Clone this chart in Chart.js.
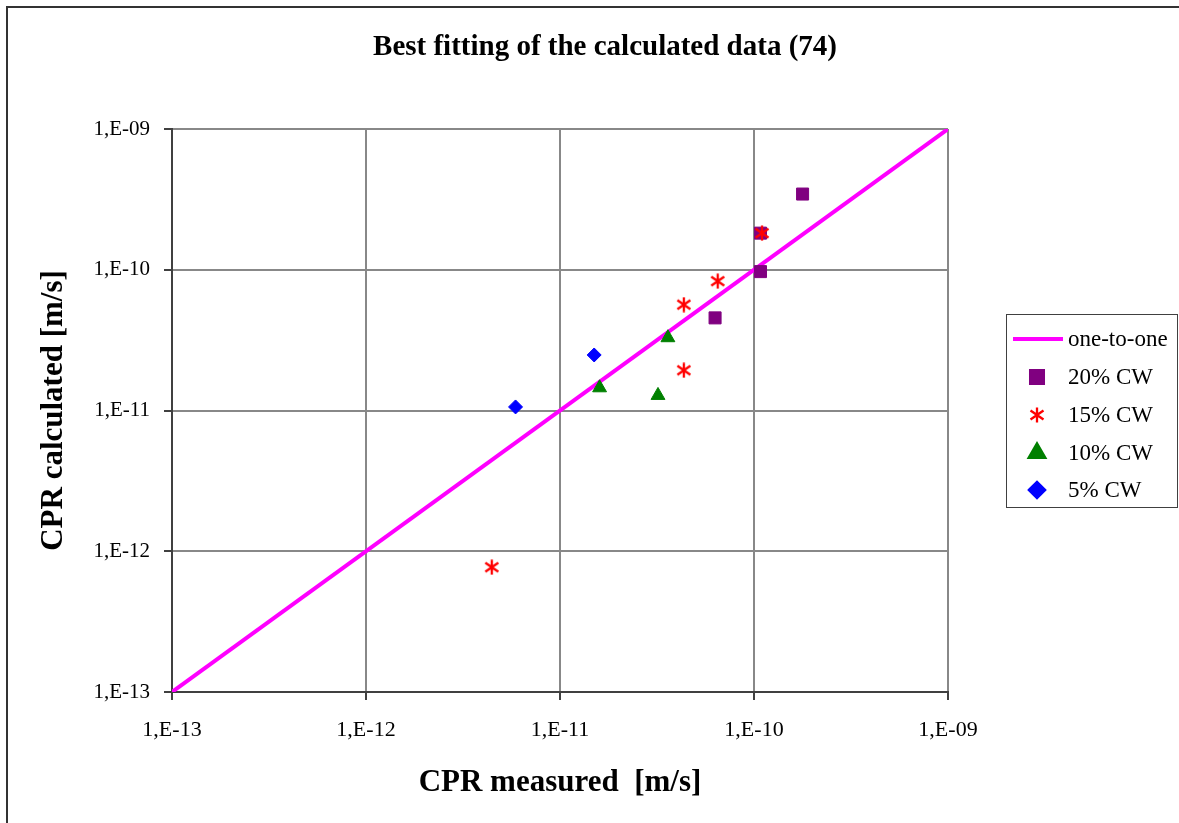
<!DOCTYPE html>
<html>
<head>
<meta charset="utf-8">
<script src="https://cdn.jsdelivr.net/npm/chart.js@4.4.1/dist/chart.umd.min.js"></script>
<style>
  body { margin: 0; background: #fff; }
  #wrap { width: 1179px; height: 823px; }
</style>
</head>
<body>
<div id="wrap"><canvas id="fitChart" width="1179" height="823"></canvas></div>
<script>
// Tick values and labels (log decades)
const tickValues = [1e-13, 1e-12, 1e-11, 1e-10, 1e-9];
const tickLabels = ['1,E-13', '1,E-12', '1,E-11', '1,E-10', '1,E-09'];

// One-to-one reference line
const oneToOneX = [1e-13, 1e-9];
const oneToOneY = [1e-13, 1e-9];

// 20% CW
const measured20 = [1.78e-10, 1.08e-10, 1.08e-10, 6.3e-11];
const calculated20 = [3.45e-10, 1.82e-10, 9.7e-11, 4.55e-11];

// 15% CW
const measured15 = [1.10e-10, 6.5e-11, 4.35e-11, 4.35e-11, 4.45e-12];
const calculated15 = [1.82e-10, 8.3e-11, 5.65e-11, 1.93e-11, 7.7e-13];

// 10% CW
const measured10 = [3.6e-11, 1.6e-11, 3.2e-11];
const calculated10 = [3.29e-11, 1.45e-11, 1.28e-11];

// 5% CW
const measured5 = [1.5e-11, 5.9e-12];
const calculated5 = [2.48e-11, 1.06e-11];

const pairs = (xs, ys) => xs.map((x, i) => ({ x: x, y: ys[i] }));

// Excel-like six-spoke asterisk marker
function makeAsterisk(color, size) {
    const c = document.createElement('canvas');
    c.width = size;
    c.height = size;
    const g = c.getContext('2d');
    g.strokeStyle = color;
    g.lineWidth = 2.3;
    const m = size / 2;
    g.beginPath();
    g.moveTo(m, 0.5); g.lineTo(m, size - 0.5);
    g.moveTo(1.5, 3.5); g.lineTo(size - 1.5, size - 3.5);
    g.moveTo(1.5, size - 3.5); g.lineTo(size - 1.5, 3.5);
    g.stroke();
    return c;
}
const asterisk = makeAsterisk('#FF0000', 16);

const serif = "'Liberation Serif', 'Times New Roman', serif";

// Frame, title and boxed legend
const decorPlugin = {
    id: 'decor',
    beforeDraw(chart) {
        const ctx = chart.ctx;
        ctx.save();
        ctx.strokeStyle = '#333';
        ctx.lineWidth = 2;
        ctx.beginPath();
        ctx.moveTo(7, 830);
        ctx.lineTo(7, 7);
        ctx.lineTo(1190, 7);
        ctx.stroke();
        ctx.restore();
    },
    afterDraw(chart) {
        const ctx = chart.ctx;
        ctx.save();
        ctx.fillStyle = '#000';
        ctx.font = 'bold 29px ' + serif;
        ctx.textAlign = 'center';
        ctx.textBaseline = 'middle';
        ctx.fillText('Best fitting of the calculated data (74)', 605, 48);

        // legend box
        ctx.strokeStyle = '#404040';
        ctx.lineWidth = 1;
        ctx.strokeRect(1006.5, 314.5, 171, 193);
        const rows = [339, 377, 415, 453, 490];
        ctx.font = '23px ' + serif;
        ctx.textAlign = 'left';
        chart.data.datasets.forEach((ds, i) => {
            const y = rows[i];
            if (ds.showLine) {
                ctx.strokeStyle = ds.borderColor;
                ctx.lineWidth = 4;
                ctx.beginPath();
                ctx.moveTo(1013, y);
                ctx.lineTo(1063, y);
                ctx.stroke();
            } else {
                ctx.fillStyle = ds.pointBackgroundColor;
                ctx.strokeStyle = ds.pointBorderColor;
                Chart.helpers.drawPoint(ctx, {
                    pointStyle: ds.pointStyle,
                    radius: ds.pointRadius,
                    rotation: 0,
                    borderWidth: 1
                }, 1037, y);
            }
            ctx.fillStyle = '#000';
            ctx.fillText(ds.label, 1068, y + 1);
        });
        ctx.restore();
    }
};

const ctx = document.getElementById('fitChart').getContext('2d');
new Chart(ctx, {
    type: 'scatter',
    data: {
        datasets: [
            {
                label: 'one-to-one',
                data: pairs(oneToOneX, oneToOneY),
                showLine: true,
                borderColor: '#FF00FF',
                borderWidth: 4,
                pointRadius: 0,
                order: 5
            },
            {
                label: '20% CW',
                data: pairs(measured20, calculated20),
                pointStyle: 'rect',
                pointRadius: 8.5,
                pointBackgroundColor: '#800080',
                pointBorderColor: '#800080',
                pointBorderWidth: 1,
                order: 4
            },
            {
                label: '15% CW',
                data: pairs(measured15, calculated15),
                pointStyle: asterisk,
                pointRadius: 8,
                pointBackgroundColor: '#FF0000',
                pointBorderColor: '#FF0000',
                order: 3
            },
            {
                label: '10% CW',
                data: pairs(measured10, calculated10),
                pointStyle: 'triangle',
                pointRadius: 8,
                pointBackgroundColor: '#008000',
                pointBorderColor: '#008000',
                pointBorderWidth: 1,
                order: 2
            },
            {
                label: '5% CW',
                data: pairs(measured5, calculated5),
                pointStyle: 'rectRot',
                pointRadius: 7,
                pointBackgroundColor: '#0000FF',
                pointBorderColor: '#0000FF',
                pointBorderWidth: 1,
                order: 1
            }
        ]
    },
    options: {
        responsive: false,
        animation: false,
        devicePixelRatio: 1,
        layout: {
            padding: { top: 129, left: 0, right: 231, bottom: 0 }
        },
        scales: {
            x: {
                type: 'logarithmic',
                min: 1e-13,
                max: 1e-9,
                afterBuildTicks: scale => {
                    scale.ticks = tickValues.map(v => ({ value: v }));
                },
                afterFit: scale => { scale.height = 131; },
                ticks: {
                    color: '#000',
                    font: { family: serif, size: 22 },
                    padding: 17,
                    maxRotation: 0,
                    callback: (value, index) => tickLabels[index]
                },
                grid: {
                    color: '#888',
                    lineWidth: 2,
                    tickColor: '#404040',
                    tickLength: 8
                },
                border: { color: '#404040', width: 2 },
                title: {
                    display: true,
                    text: 'CPR measured  [m/s]',
                    color: '#000',
                    font: { family: serif, size: 31, weight: 'bold' },
                    padding: { top: 0, bottom: 21 }
                }
            },
            y: {
                type: 'logarithmic',
                min: 1e-13,
                max: 1e-9,
                afterBuildTicks: scale => {
                    scale.ticks = tickValues.map(v => ({ value: v }));
                },
                afterFit: scale => { scale.width = 172; },
                ticks: {
                    color: '#000',
                    font: { family: serif, size: 21 },
                    padding: 14,
                    callback: (value, index) => tickLabels[index]
                },
                grid: {
                    color: '#888',
                    lineWidth: 2,
                    tickColor: '#404040',
                    tickLength: 8
                },
                border: { color: '#404040', width: 2 },
                title: {
                    display: true,
                    text: 'CPR calculated [m/s]',
                    color: '#000',
                    font: { family: serif, size: 31, weight: 'bold' },
                    padding: { top: 35, bottom: 0 }
                }
            }
        },
        plugins: {
            legend: { display: false },
            tooltip: { enabled: false }
        }
    },
    plugins: [decorPlugin]
});
</script>
</body>
</html>
